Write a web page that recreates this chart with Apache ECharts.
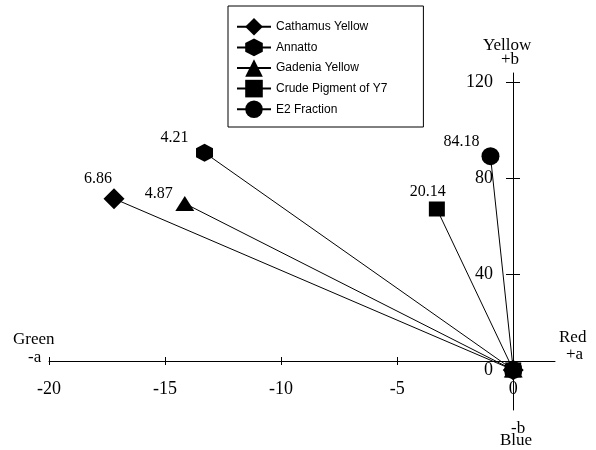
<!DOCTYPE html>
<html>
<head>
<meta charset="utf-8">
<script src="https://cdn.jsdelivr.net/npm/echarts@6/dist/echarts.min.js"></script>
<style>html,body{margin:0;padding:0;background:#fff}#c{width:596px;height:450px}</style>
</head>
<body>
<div id="c"></div>
<script>
// ---- data ----
const seriesNames = ['Cathamus Yellow', 'Annatto', 'Gadenia Yellow', 'Crude Pigment of Y7', 'E2 Fraction'];
const aValues = [-17.2, -13.3, -14.15, -3.29, -0.98];   // -a / +a (green-red)
const bValues = [71.4, 90.6, 69.4, 67.1, 89.1];         // -b / +b (blue-yellow)
const pointLabels = ['6.86', '4.21', '4.87', '20.14', '84.18'];
const xTicks = [-20, -15, -10, -5];
const xLabels = [-20, -15, -10, -5, 0];
const yTicks = [40, 80, 120];
const yLabels = [0, 40, 80, 120];

// ---- styles ----
const hexPath = 'path://M0,-10L8.66,-5L8.66,5L0,10L-8.66,5L-8.66,-5Z';
const symbols = ['diamond', hexPath, 'triangle', 'rect', 'circle'];
const symbolSizes = [[21, 21], [17, 18], [19, 15], [16, 15], [18, 18]];
const labelOffsets = [[-16, -20], [-30, -15], [-26, -10], [-9, -17], [-29, -14.5]];
const serif = '"Liberation Serif", "Times New Roman", serif';

const series = seriesNames.map((name, i) => ({
  name: name,
  type: 'line',
  xAxisIndex: 0,
  yAxisIndex: 0,
  symbol: symbols[i],
  symbolSize: symbolSizes[i],
  showAllSymbol: true,
  lineStyle: { color: '#000', width: 1 },
  itemStyle: { color: '#000' },
  emphasis: { disabled: true },
  animation: false,
  data: [
    [0, 0],
    {
      value: [aValues[i], bValues[i]],
      label: {
        show: true,
        position: 'inside',
        offset: labelOffsets[i],
        formatter: pointLabels[i],
        color: '#000',
        fontFamily: serif,
        fontSize: 16
      }
    }
  ]
}));

const xRange = { min: -20, max: 1.8 };
const yRange = { min: -16.7, max: 123.8 };
const yAxisShift = -464; // y-axis drawn at a = 0
const xAxisShift = -49;  // x-axis drawn just above b = 0

const chart = echarts.init(document.getElementById('c'), null, { renderer: 'canvas' });
chart.setOption({
  backgroundColor: '#fff',
  animation: false,
  grid: { left: 49, right: 41, top: 73, bottom: 40, containLabel: false },
  legend: {
    orient: 'vertical',
    left: 228,
    top: 6,
    padding: [12, 36, 9, 8],
    itemGap: 3,
    itemWidth: 34,
    itemHeight: 22,
    borderColor: '#000',
    borderWidth: 1,
    data: seriesNames,
    textStyle: { fontFamily: '"Liberation Sans", Arial, sans-serif', fontSize: 12, color: '#000' },
    selectedMode: false
  },
  xAxis: [
    {
      type: 'value', min: xRange.min, max: xRange.max,
      position: 'bottom', offset: xAxisShift, z: 5,
      axisLine: { onZero: false, lineStyle: { color: '#000', width: 1 } },
      axisTick: { show: true, inside: false, length: 4, customValues: xTicks, lineStyle: { color: '#000' } },
      axisLabel: { customValues: xLabels, margin: 19, color: '#000', fontFamily: serif, fontSize: 18 },
      splitLine: { show: false }
    },
    {
      type: 'value', min: xRange.min, max: xRange.max,
      position: 'bottom', offset: xAxisShift,
      axisLine: { show: false, onZero: false },
      axisTick: { show: true, inside: true, length: 4, customValues: xTicks, lineStyle: { color: '#000' } },
      axisLabel: { show: false },
      splitLine: { show: false }
    }
  ],
  yAxis: [
    {
      type: 'value', min: yRange.min, max: yRange.max,
      position: 'left', offset: yAxisShift,
      axisLine: { onZero: false, lineStyle: { color: '#000', width: 1 } },
      axisTick: { show: true, inside: false, length: 7, customValues: yTicks, lineStyle: { color: '#000' } },
      axisLabel: { customValues: yLabels, margin: 20, color: '#000', fontFamily: serif, fontSize: 18 },
      splitLine: { show: false }
    },
    {
      type: 'value', min: yRange.min, max: yRange.max,
      position: 'left', offset: yAxisShift,
      axisLine: { show: false, onZero: false },
      axisTick: { show: true, inside: true, length: 7, customValues: yTicks, lineStyle: { color: '#000' } },
      axisLabel: { show: false },
      splitLine: { show: false }
    }
  ],
  graphic: [
    { type: 'text', left: 13, top: 331, style: { text: 'Green', font: '17px ' + serif, fill: '#000' } },
    { type: 'text', left: 28, top: 349, style: { text: '-a', font: '17px ' + serif, fill: '#000' } },
    { type: 'text', left: 559, top: 329, style: { text: 'Red', font: '17px ' + serif, fill: '#000' } },
    { type: 'text', left: 566, top: 346, style: { text: '+a', font: '17px ' + serif, fill: '#000' } },
    { type: 'text', left: 483, top: 37, style: { text: 'Yellow', font: '17px ' + serif, fill: '#000' } },
    { type: 'text', left: 501, top: 51, style: { text: '+b', font: '17px ' + serif, fill: '#000' } },
    { type: 'text', left: 511, top: 420, style: { text: '-b', font: '17px ' + serif, fill: '#000' } },
    { type: 'text', left: 500, top: 432, style: { text: 'Blue', font: '17px ' + serif, fill: '#000' } }
  ],
  series: series
});
</script>
</body>
</html>
